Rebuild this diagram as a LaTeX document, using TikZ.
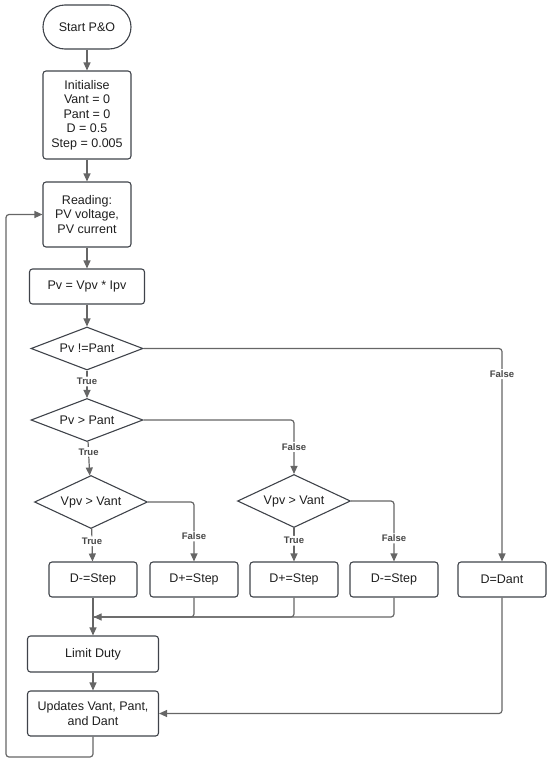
\documentclass[tikz,border=0pt]{standalone}
\usepackage{fontspec}
\setmainfont{Liberation Sans}
\usetikzlibrary{shapes.geometric,arrows.meta}
\definecolor{boxline}{HTML}{3F434A}
\definecolor{linegray}{HTML}{666666}
\definecolor{txt}{HTML}{1E1E1E}

\begin{document}
\begin{tikzpicture}[x=1pt,y=-1pt,
  box/.style={draw=boxline,line width=1.1pt,rounded corners=3pt,text=txt,
    font=\fontsize{12.5}{14.6}\selectfont,align=center,inner sep=0pt},
  act/.style={box,minimum width=88pt,minimum height=35pt},
  dec/.style={draw=boxline,line width=1.1pt,shape=diamond,text=txt,
    font=\fontsize{12.5}{14.6}\selectfont,inner sep=0pt,aspect=2.6,
    minimum width=112pt,minimum height=43pt},
  decv/.style={dec,aspect=2.1,minimum width=113pt,minimum height=53pt},
  link/.style={draw=linegray,line width=1.2pt,rounded corners=3pt},
  arr/.style={link,-{Triangle[length=8pt,width=7pt]}},
  lbl/.style={fill=white,text=linegray!70!black,inner sep=1.5pt,
    font=\bfseries\fontsize{9.5}{10}\selectfont}]
\useasboundingbox (0,0) rectangle (550,763);
\node[box,minimum width=88pt,minimum height=44pt,rounded corners=22pt] (start) at (87,27) {Start P\&O};
\node[box,minimum width=88pt,minimum height=88pt] (init) at (87,115) {Initialise\\Vant = 0\\Pant = 0\\D = 0.5\\Step = 0.005};
\node[box,minimum width=88pt,minimum height=65pt] (read) at (87,214.5) {Reading:\\PV voltage,\\PV current};
\node[box,minimum width=115pt,minimum height=35pt] (pv) at (87,286.5) {Pv = Vpv * Ipv};
\node[dec] (chg) at (87,348.5) {Pv !=Pant};
\node[dec] (pgt) at (87,420) {Pv > Pant};
\node[decv] (vgt1) at (91,502) {Vpv > Vant};
\node[decv] (vgt2) at (294,501) {Vpv > Vant};
\node[act] (dm1) at (93,579.5) {D-=Step};
\node[act] (dp1) at (194,579.5) {D+=Step};
\node[act] (dp2) at (294,579.5) {D+=Step};
\node[act] (dm2) at (394,579.5) {D-=Step};
\node[act] (dant) at (502,579.5) {D=Dant};
\node[box,minimum width=131pt,minimum height=36pt] (limit) at (93,654) {Limit Duty};
\node[box,minimum width=131pt,minimum height=45pt] (upd) at (93,713.5) {Updates Vant, Pant,\\and Dant};
\coordinate (mrg) at (93.6,617);
\coordinate (back) at (6,757);

\draw[arr] (start) -- (init);
\draw[arr] (init) -- (read);
\draw[arr] (read) -- (pv);
\draw[arr] (pv) -- (chg);
\draw[arr] (chg) -- node[lbl,pos=0.4] {True} (pgt);
\draw[arr] (chg.east) -| node[lbl,pos=0.56] {False} (dant.north);
\draw[arr] (pgt) -- node[lbl,pos=0.3] {True} (vgt1);
\draw[arr] (pgt.east) -| node[lbl,pos=0.75] {False} (vgt2.north);
\draw[arr] (vgt1) -- node[lbl,pos=0.38] {True} (dm1);
\draw[arr] (vgt1.east) -| node[lbl,pos=0.79] {False} (dp1.north);
\draw[arr] (vgt2) -- node[lbl,pos=0.38] {True} (dp2);
\draw[arr] (vgt2.east) -| node[lbl,pos=0.81] {False} (dm2.north);
\draw[link] (dp1.south) |- (mrg);
\draw[link] (dp2.south) |- (mrg);
\draw[arr] (dm2.south) |- (mrg);
\draw[arr] (dm1) -- (limit);
\draw[arr] (limit) -- (upd);
\draw[arr] (dant.south) |- (upd.east);
\draw[arr] (upd.south) |- (back) |- (read.west);
\end{tikzpicture}
\end{document}
